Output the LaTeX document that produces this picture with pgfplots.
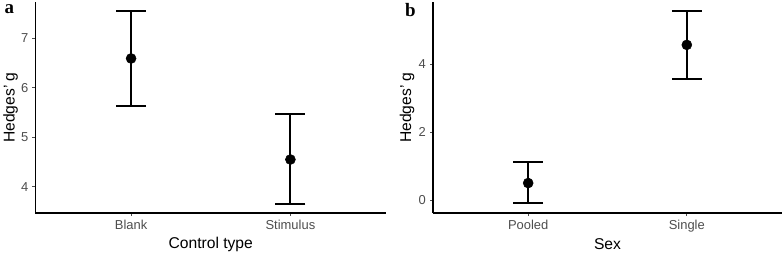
\documentclass[border=0pt]{standalone}
\usepackage{pgfplots}
\pgfplotsset{compat=1.18}
\usepackage{fontspec}
\setmainfont{Liberation Sans}
\newfontfamily\seriffont{Liberation Serif}
\definecolor{tickgray}{HTML}{4D4D4D}
\pgfplotsset{
  panel/.style={
    scale only axis, height=211bp,
    anchor=south west,
    xmin=0.4, xmax=2.6, xtick={1,2},
    axis x line*=bottom, axis y line*=left,
    axis line style={-, line width=1.3bp, black},
    tick align=outside, major tick length=3bp,
    tick style={tickgray, line width=0.8bp},
    ticklabel style={font=\fontsize{13}{13}\selectfont, text=tickgray},
    xticklabel style={anchor=north, inner sep=0pt, yshift=-4bp},
    yticklabel style={anchor=east, inner sep=0pt, xshift=-4bp},
    /pgf/number format/assume math mode=true,
    label style={font=\fontsize{15.7}{15.7}\selectfont},
    clip=false,
  },
  errplot/.style={
    black, only marks, mark=*, mark size=5bp, line width=2bp,
    mark options={line width=0.5bp},
    error bars/.cd, y dir=both, y explicit,
    error mark=|,
    error bar style={line width=2bp, black},
    error mark options={line width=2bp, mark size=15bp, black},
  },
}
\begin{document}
\begin{tikzpicture}
\path[use as bounding box] (0,0) rectangle (784bp,253bp);
\begin{axis}[panel, at={(35.5bp,40bp)}, width=350.5bp,
  ymin=3.47, ymax=7.73, ytick={4,5,6,7},
  xticklabels={Blank,Stimulus},
  xlabel={Control type}, ylabel={Hedges' g},
  xlabel style={at={(axis description cs:0.5,-0.148)}, anchor=center},
  ylabel style={at={(axis description cs:-0.0714,0.5)}, anchor=center},
]
\addplot[errplot] coordinates {(1,6.59) += (0,0.96) -= (0,0.95)};
\addplot[errplot] coordinates {(2,4.55) += (0,0.92) -= (0,0.89)};
\end{axis}
\begin{axis}[panel, at={(433bp,40bp)}, width=349bp,
  ymin=-0.37, ymax=5.83, ytick={0,2,4},
  xticklabels={Pooled,Single},
  xlabel={Sex}, ylabel={Hedges' g},
  xlabel style={at={(axis description cs:0.5,-0.148)}, anchor=center},
  ylabel style={at={(axis description cs:-0.0745,0.5)}, anchor=center},
]
\addplot[errplot] coordinates {(1,0.51) += (0,0.61) -= (0,0.60)};
\addplot[errplot] coordinates {(2,4.57) += (0,1.00) -= (0,1.01)};
\end{axis}
\node[anchor=base west, inner sep=0pt, font=\seriffont\bfseries\fontsize{19}{19}\selectfont] at (4.5bp,239.7bp) {a};
\node[anchor=base west, inner sep=0pt, font=\seriffont\bfseries\fontsize{19}{19}\selectfont] at (405bp,236.3bp) {b};
\end{tikzpicture}
\end{document}
